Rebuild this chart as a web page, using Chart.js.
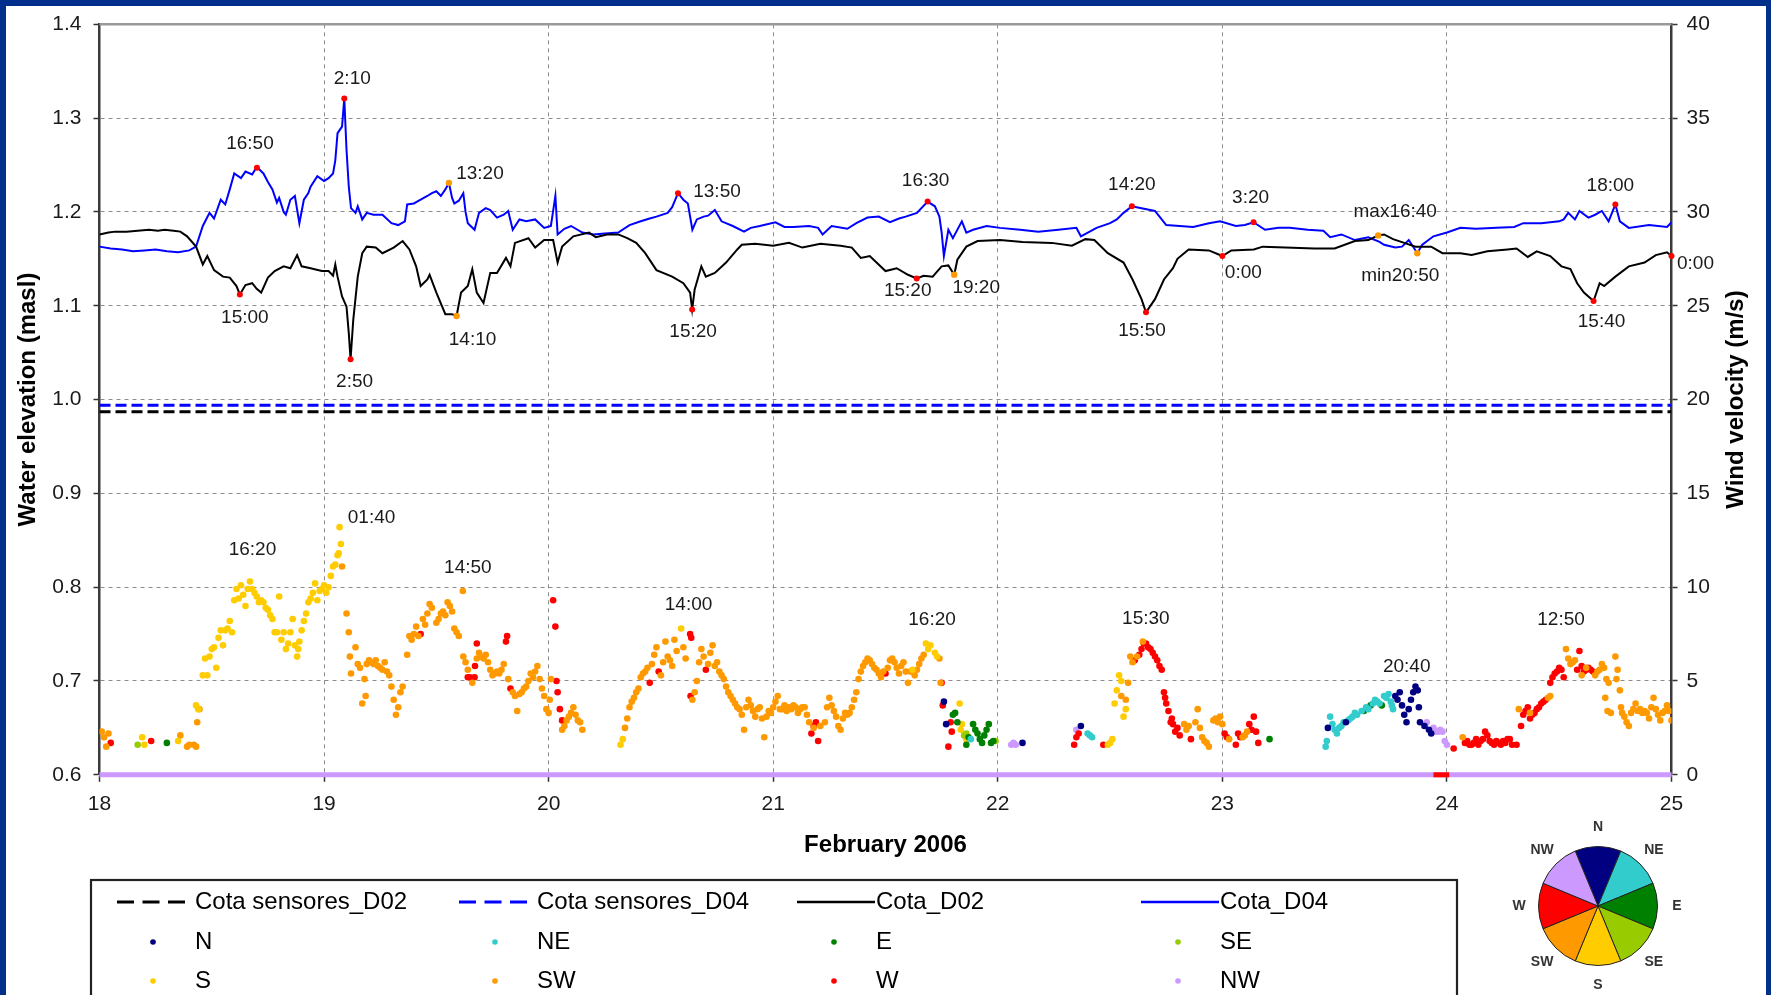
<!DOCTYPE html>
<html>
<head>
<meta charset="utf-8">
<title>Water elevation and wind velocity, February 2006</title>
<script src="https://cdn.jsdelivr.net/npm/chart.js@4.4.1/dist/chart.umd.min.js"></script>
<style>
  html, body { margin: 0; padding: 0; overflow: hidden; }
  body { width: 1771px; height: 995px; background: #00308c; position: relative; }
  #panel { position: absolute; left: 6px; top: 6px; width: 1760px; height: 989px; background: #fff; overflow: hidden; }
  #main { position: absolute; left: 0; top: 0; }
  #rose { position: absolute; left: 1492px; top: 800px; }
</style>
</head>
<body>
<div id="panel">
  <canvas id="main" width="1760" height="989"></canvas>
  <canvas id="rose" width="200" height="200"></canvas>
</div>
<script>
// ---- water level (masl), [day of February, level] ----
var cotaD02 = [
  [18.00,1.176],[18.04,1.178],[18.07,1.179],[18.12,1.179],[18.17,1.180],[18.22,1.181],[18.26,1.180],[18.29,1.181],
  [18.33,1.180],[18.36,1.179],[18.39,1.174],[18.43,1.163],[18.46,1.144],[18.48,1.153],[18.51,1.138],[18.55,1.131],
  [18.58,1.130],[18.61,1.121],[18.625,1.112],[18.65,1.122],[18.68,1.124],[18.70,1.118],[18.72,1.114],[18.75,1.130],
  [18.78,1.137],[18.82,1.142],[18.85,1.140],[18.88,1.154],[18.90,1.142],[18.94,1.140],[18.99,1.137],[19.02,1.137],
  [19.04,1.132],[19.05,1.144],[19.06,1.131],[19.08,1.110],[19.10,1.099],[19.11,1.071],[19.118,1.043],[19.13,1.085],
  [19.15,1.131],[19.17,1.156],[19.19,1.163],[19.23,1.162],[19.26,1.156],[19.31,1.162],[19.35,1.169],[19.38,1.160],
  [19.41,1.142],[19.43,1.121],[19.46,1.128],[19.47,1.133],[19.50,1.114],[19.54,1.091],[19.57,1.091],[19.59,1.089],
  [19.61,1.114],[19.64,1.121],[19.66,1.139],[19.68,1.114],[19.71,1.103],[19.74,1.135],[19.77,1.135],[19.81,1.151],
  [19.83,1.142],[19.85,1.167],[19.91,1.172],[19.94,1.162],[19.98,1.170],[20.02,1.170],[20.04,1.146],[20.06,1.163],
  [20.11,1.174],[20.18,1.178],[20.21,1.173],[20.26,1.176],[20.31,1.176],[20.35,1.172],[20.39,1.167],[20.43,1.156],
  [20.48,1.138],[20.55,1.131],[20.60,1.124],[20.63,1.114],[20.639,1.096],[20.65,1.117],[20.68,1.142],[20.70,1.131],
  [20.74,1.135],[20.79,1.146],[20.84,1.160],[20.86,1.165],[20.92,1.166],[21.00,1.164],[21.07,1.167],[21.13,1.162],
  [21.21,1.166],[21.30,1.164],[21.35,1.162],[21.39,1.151],[21.43,1.153],[21.50,1.137],[21.55,1.140],[21.60,1.133],
  [21.639,1.129],[21.67,1.132],[21.71,1.131],[21.75,1.142],[21.78,1.143],[21.806,1.133],[21.82,1.149],[21.86,1.163],
  [21.91,1.169],[22.01,1.170],[22.11,1.168],[22.24,1.167],[22.33,1.164],[22.39,1.171],[22.43,1.170],[22.49,1.156],
  [22.56,1.146],[22.60,1.128],[22.64,1.107],[22.66,1.093],[22.70,1.107],[22.74,1.128],[22.78,1.140],[22.80,1.150],
  [22.85,1.160],[22.94,1.159],[23.00,1.153],[23.04,1.159],[23.14,1.160],[23.18,1.163],[23.28,1.162],[23.41,1.161],
  [23.50,1.161],[23.59,1.169],[23.65,1.170],[23.694,1.175],[23.72,1.176],[23.76,1.171],[23.81,1.167],[23.86,1.163],
  [23.93,1.163],[23.98,1.156],[24.06,1.156],[24.11,1.154],[24.18,1.158],[24.27,1.160],[24.31,1.161],[24.36,1.152],
  [24.40,1.158],[24.46,1.153],[24.51,1.142],[24.55,1.139],[24.58,1.124],[24.61,1.114],[24.653,1.105],[24.68,1.124],
  [24.70,1.121],[24.75,1.131],[24.81,1.142],[24.88,1.146],[24.93,1.154],[24.98,1.157],[25.00,1.153]
];
var cotaD04 = [
  [18.00,1.163],[18.05,1.161],[18.10,1.160],[18.15,1.158],[18.20,1.159],[18.25,1.160],[18.30,1.158],[18.35,1.157],
  [18.40,1.159],[18.43,1.163],[18.46,1.185],[18.49,1.199],[18.51,1.193],[18.54,1.213],[18.56,1.208],[18.58,1.224],
  [18.60,1.241],[18.63,1.236],[18.65,1.243],[18.68,1.240],[18.70,1.248],[18.73,1.241],[18.75,1.232],[18.77,1.224],
  [18.79,1.210],[18.80,1.215],[18.82,1.200],[18.83,1.197],[18.85,1.213],[18.87,1.217],[18.89,1.188],[18.91,1.213],
  [18.93,1.220],[18.94,1.227],[18.97,1.238],[19.00,1.233],[19.02,1.236],[19.04,1.241],[19.05,1.255],[19.06,1.284],
  [19.08,1.291],[19.09,1.321],[19.10,1.266],[19.11,1.227],[19.12,1.204],[19.14,1.199],[19.15,1.206],[19.17,1.192],
  [19.19,1.199],[19.22,1.197],[19.26,1.197],[19.30,1.188],[19.33,1.186],[19.36,1.190],[19.37,1.208],[19.40,1.209],
  [19.43,1.213],[19.46,1.217],[19.48,1.220],[19.50,1.222],[19.52,1.217],[19.54,1.224],[19.556,1.231],[19.57,1.215],
  [19.58,1.209],[19.60,1.212],[19.62,1.220],[19.63,1.200],[19.64,1.188],[19.67,1.181],[19.69,1.199],[19.72,1.204],
  [19.74,1.202],[19.77,1.194],[19.80,1.197],[19.82,1.201],[19.84,1.181],[19.87,1.192],[19.90,1.190],[19.94,1.192],
  [19.98,1.183],[20.01,1.185],[20.03,1.217],[20.04,1.176],[20.07,1.182],[20.10,1.185],[20.15,1.178],[20.20,1.176],
  [20.25,1.177],[20.31,1.178],[20.36,1.186],[20.41,1.190],[20.45,1.193],[20.48,1.195],[20.53,1.199],[20.55,1.205],
  [20.576,1.220],[20.60,1.213],[20.62,1.209],[20.64,1.181],[20.66,1.192],[20.69,1.195],[20.71,1.196],[20.74,1.202],
  [20.77,1.190],[20.82,1.185],[20.87,1.179],[20.90,1.183],[20.94,1.185],[21.01,1.189],[21.05,1.184],[21.09,1.184],
  [21.16,1.185],[21.20,1.183],[21.22,1.176],[21.26,1.185],[21.33,1.182],[21.37,1.188],[21.42,1.194],[21.47,1.195],
  [21.52,1.189],[21.56,1.193],[21.59,1.195],[21.64,1.199],[21.6875,1.211],[21.72,1.206],[21.74,1.195],[21.75,1.178],
  [21.76,1.153],[21.78,1.181],[21.80,1.172],[21.84,1.190],[21.86,1.178],[21.89,1.181],[21.95,1.185],[22.01,1.183],
  [22.10,1.181],[22.18,1.179],[22.27,1.181],[22.35,1.183],[22.37,1.174],[22.44,1.183],[22.50,1.188],[22.53,1.192],
  [22.56,1.199],[22.597,1.206],[22.64,1.204],[22.70,1.201],[22.75,1.186],[22.81,1.185],[22.87,1.184],[22.94,1.188],
  [22.99,1.190],[23.06,1.185],[23.10,1.186],[23.139,1.189],[23.19,1.181],[23.25,1.183],[23.30,1.183],[23.38,1.181],
  [23.45,1.180],[23.48,1.173],[23.53,1.176],[23.59,1.170],[23.65,1.173],[23.70,1.168],[23.72,1.165],[23.77,1.162],
  [23.80,1.163],[23.83,1.170],[23.868,1.156],[23.89,1.165],[23.94,1.174],[24.00,1.178],[24.06,1.183],[24.13,1.182],
  [24.22,1.183],[24.30,1.184],[24.34,1.188],[24.42,1.188],[24.50,1.190],[24.52,1.192],[24.54,1.199],[24.57,1.192],
  [24.59,1.201],[24.63,1.194],[24.66,1.197],[24.69,1.201],[24.72,1.190],[24.75,1.208],[24.77,1.190],[24.81,1.183],
  [24.90,1.186],[24.98,1.184],[25.00,1.189]
];
var sensorD02 = 0.987;
var sensorD04 = 0.994;

// ---- marked extremes of the water levels ----
var redMarks = [[18.701,1.247],[19.090,1.321],[18.625,1.112],[19.118,1.043],[20.576,1.220],[20.639,1.096],[21.6875,1.211],
  [21.639,1.129],[22.597,1.206],[22.660,1.093],[23.139,1.189],[23.000,1.153],[24.653,1.105],[24.750,1.208],[25.000,1.153]];
var redMarkNames = ['16:50','2:10','15:00','2:50','13:50','15:20','16:30','15:20','14:20','15:50','3:20','0:00','15:40','18:00','0:00'];
var orangeMarks = [[19.556,1.231],[19.590,1.089],[21.806,1.133],[23.694,1.175],[23.868,1.156]];
var orangeMarkNames = ['13:20','14:10','19:20','max16:40','min20:50'];

// ---- wind velocity (m/s) by direction, [day, speed] ----
var windDirs = ['N','NE','E','SE','S','SW','W','NW'];
var windN = [[21.76,3.9],[21.77,2.7],[22.11,1.7],[22.37,2.6],[23.47,2.5],[23.55,2.8],[23.77,4.2],[23.78,4.0],[23.79,4.4],
  [23.80,3.7],[23.81,3.2],[23.82,2.8],[23.83,3.5],[23.84,4.0],[23.85,4.4],[23.86,4.7],[23.87,4.5],[23.875,3.6],
  [23.88,2.8],[23.90,2.6],[23.92,2.4],[23.93,2.2]];
var windNE = [[21.88,1.9],[22.40,2.2],[22.41,2.1],[22.42,2.0],[23.46,1.5],[23.465,1.8],[23.48,3.1],[23.49,2.7],[23.50,2.4],
  [23.51,2.2],[23.52,2.5],[23.53,2.6],[23.54,2.8],[23.56,2.9],[23.57,3.0],[23.58,3.1],[23.59,3.3],[23.60,3.2],[23.62,3.4],
  [23.64,3.6],[23.65,3.5],[23.67,3.8],[23.68,4.0],[23.69,3.9],[23.70,3.8],[23.72,4.2],[23.73,4.1],[23.74,4.3],[23.75,3.9],
  [23.755,3.7],[23.76,3.5]];
var windE = [[18.30,1.7],[21.80,3.2],[21.81,3.3],[21.82,2.8],[21.86,1.6],[21.87,2.0],[21.89,2.7],[21.90,2.4],[21.91,2.2],
  [21.92,1.9],[21.93,1.7],[21.94,2.1],[21.95,2.4],[21.96,2.7],[21.97,1.7],[21.98,1.8],[23.21,1.9],[23.63,3.4],[23.66,3.7],
  [23.71,3.7]];
var windSE = [[18.17,1.6],[21.85,2.1],[21.86,2.2],[21.99,1.8]];
var windS = [[18.19,2.0],[18.20,1.6],[18.35,1.8],[18.43,3.7],[18.44,3.5],[18.46,5.3],[18.47,6.2],[18.48,5.3],[18.49,6.3],
  [18.50,6.7],[18.51,6.8],[18.52,5.7],[18.53,7.3],[18.54,7.7],[18.55,6.9],[18.56,7.7],[18.57,7.8],[18.58,8.2],[18.59,7.6],
  [18.60,9.3],[18.61,9.9],[18.62,9.4],[18.63,10.1],[18.64,9.6],[18.65,9.0],[18.66,9.9],[18.67,10.3],[18.68,9.9],[18.69,9.7],
  [18.70,9.5],[18.71,9.2],[18.72,9.3],[18.73,9.2],[18.74,8.9],[18.75,8.8],[18.76,8.5],[18.77,8.3],[18.78,7.6],[18.79,7.6],
  [18.80,9.5],[18.81,7.2],[18.82,7.6],[18.83,6.7],[18.84,7.0],[18.85,7.6],[18.86,8.3],[18.87,6.9],[18.88,6.3],[18.885,6.7],
  [18.89,7.1],[18.90,7.7],[18.91,8.2],[18.92,8.6],[18.93,9.2],[18.94,9.4],[18.95,9.7],[18.96,10.2],[18.97,9.3],[18.98,9.8],
  [18.99,9.9],[19.00,10.1],[19.01,9.7],[19.02,10.0],[19.03,10.6],[19.04,11.1],[19.05,11.2],[19.06,11.7],[19.065,11.8],
  [19.069,13.2],[19.075,12.3],[20.32,1.6],[20.33,1.9],[20.59,7.8],[21.62,5.6],[21.68,7.0],[21.69,6.7],[21.70,6.9],
  [21.72,6.5],[21.73,6.3],[21.83,3.8],[21.835,2.4],[21.84,2.7],[21.86,1.9],[22.49,1.6],[22.50,1.7],[22.51,1.9],[22.52,3.8],
  [22.53,4.5],[22.54,5.3],[22.55,5.0],[22.56,3.1],[22.57,3.5]];
var windSW = [[18.01,2.3],[18.02,2.0],[18.03,1.5],[18.04,2.2],[18.36,2.1],[18.39,1.5],[18.40,1.6],[18.42,1.6],[18.43,1.5],
  [18.435,2.8],[18.445,3.5],[19.08,11.1],[19.10,8.6],[19.11,7.6],[19.115,6.3],[19.12,5.4],[19.14,6.8],[19.15,5.9],[19.16,5.7],
  [19.17,3.8],[19.18,5.1],[19.185,4.2],[19.19,5.9],[19.20,6.1],[19.21,6.0],[19.22,5.9],[19.23,6.1],[19.24,5.8],[19.25,5.7],
  [19.26,5.6],[19.27,6.0],[19.28,5.5],[19.29,5.3],[19.30,4.7],[19.31,4.0],[19.32,3.2],[19.33,3.6],[19.34,4.4],[19.35,4.7],
  [19.37,6.4],[19.38,7.4],[19.39,7.2],[19.40,7.5],[19.41,7.9],[19.42,7.4],[19.44,8.3],[19.45,8.0],[19.46,8.6],[19.47,9.1],
  [19.48,8.9],[19.50,8.1],[19.51,8.3],[19.52,8.6],[19.53,8.7],[19.54,8.5],[19.55,9.2],[19.56,9.0],[19.57,8.7],[19.58,7.8],
  [19.59,7.6],[19.60,7.4],[19.618,9.8],[19.62,6.3],[19.63,6.0],[19.64,5.6],[19.66,4.9],[19.68,6.2],[19.69,6.5],[19.70,6.3],
  [19.71,6.2],[19.72,6.4],[19.73,6.0],[19.74,5.6],[19.75,5.3],[19.76,5.4],[19.77,5.5],[19.78,5.4],[19.79,5.6],[19.80,5.9],
  [19.82,5.1],[19.84,4.4],[19.85,4.2],[19.86,3.4],[19.87,4.3],[19.88,4.4],[19.89,4.6],[19.90,4.7],[19.91,5.0],[19.92,5.4],
  [19.93,5.2],[19.94,5.5],[19.95,5.8],[19.96,5.1],[19.97,4.6],[19.98,4.2],[19.99,3.5],[20.00,3.3],[20.005,4.0],[20.01,5.1],
  [20.06,2.4],[20.07,2.6],[20.08,2.9],[20.09,3.1],[20.10,3.3],[20.11,3.6],[20.12,3.2],[20.13,2.9],[20.14,2.8],[20.15,2.4],
  [20.34,2.5],[20.35,3.0],[20.36,3.6],[20.37,3.9],[20.38,4.1],[20.39,4.4],[20.40,4.6],[20.41,5.2],[20.42,5.4],[20.43,5.5],
  [20.44,5.7],[20.46,5.9],[20.47,6.4],[20.48,6.8],[20.50,5.3],[20.51,6.0],[20.52,7.1],[20.53,6.3],[20.54,6.1],[20.55,5.8],
  [20.56,7.2],[20.57,6.6],[20.60,6.8],[20.61,6.2],[20.64,4.0],[20.65,4.4],[20.66,5.0],[20.67,6.0],[20.68,6.7],[20.69,6.3],
  [20.71,5.9],[20.72,6.5],[20.73,6.9],[20.74,5.8],[20.75,6.0],[20.76,5.5],[20.77,5.3],[20.78,5.1],[20.79,4.7],[20.80,4.4],
  [20.81,4.2],[20.82,4.0],[20.83,3.8],[20.84,3.6],[20.85,3.5],[20.86,3.2],[20.87,2.4],[20.88,3.6],[20.89,4.0],[20.90,3.7],
  [20.91,3.4],[20.92,3.1],[20.93,3.5],[20.94,3.6],[20.95,3.0],[20.96,2.0],[20.97,3.1],[20.98,3.4],[20.99,3.3],[21.00,3.6],
  [21.01,3.9],[21.02,4.2],[21.03,3.5],[21.04,3.5],[21.05,3.7],[21.06,3.4],[21.07,3.6],[21.08,3.5],[21.09,3.7],[21.10,3.6],
  [21.11,3.3],[21.12,3.5],[21.13,3.6],[21.14,3.6],[21.15,3.2],[21.16,2.8],[21.18,2.5],[21.21,2.6],[21.23,2.8],[21.24,3.6],
  [21.25,4.1],[21.26,3.7],[21.27,3.4],[21.28,3.1],[21.29,2.6],[21.30,2.4],[21.31,3.0],[21.32,3.3],[21.33,3.2],[21.34,3.3],
  [21.35,3.6],[21.36,4.0],[21.37,4.4],[21.38,5.1],[21.39,5.5],[21.40,5.8],[21.41,6.0],[21.42,6.2],[21.43,6.1],[21.44,5.9],
  [21.45,5.7],[21.46,5.6],[21.47,5.4],[21.48,5.2],[21.49,5.5],[21.51,5.7],[21.52,6.1],[21.53,6.2],[21.54,6.0],[21.55,5.7],
  [21.56,5.4],[21.57,5.8],[21.58,6.0],[21.59,5.5],[21.60,4.9],[21.61,5.5],[21.63,5.3],[21.64,5.6],[21.65,5.9],[21.66,6.2],
  [21.67,6.4],[21.74,6.2],[21.745,4.9],[22.55,4.2],[22.57,4.0],[22.58,4.9],[22.59,6.3],[22.60,6.0],[22.62,6.3],[22.646,7.1],
  [22.83,2.7],[22.84,2.4],[22.85,2.6],[22.88,2.8],[22.89,3.5],[22.90,2.5],[22.91,2.0],[22.92,1.8],[22.93,1.7],[22.94,1.5],
  [22.96,2.9],[22.97,3.0],[22.98,2.8],[22.99,3.1],[23.00,2.7],[23.03,1.9],[23.09,2.0],[23.10,2.1],[23.11,2.3],[24.07,2.0],
  [24.32,3.5],[24.37,3.3],[24.45,4.1],[24.46,4.2],[24.53,6.7],[24.54,6.2],[24.55,5.9],[24.56,6.0],[24.57,6.1],[24.60,5.3],
  [24.62,5.7],[24.66,5.3],[24.67,5.5],[24.68,5.6],[24.69,5.9],[24.70,5.7],[24.705,4.1],[24.71,5.1],[24.715,3.4],[24.72,4.9],
  [24.73,3.3],[24.75,6.3],[24.755,5.1],[24.76,5.6],[24.77,4.5],[24.775,3.6],[24.78,3.3],[24.79,3.1],[24.80,2.8],[24.81,2.6],
  [24.82,3.3],[24.83,3.5],[24.84,3.8],[24.85,3.4],[24.86,3.5],[24.87,3.3],[24.88,3.4],[24.89,3.3],[24.90,3.0],[24.91,3.6],
  [24.92,4.1],[24.93,3.5],[24.94,3.2],[24.95,2.9],[24.96,3.3],[24.97,3.4],[24.98,3.7],[24.99,3.4],[25.00,2.9]];
var windW = [[18.05,1.7],[18.23,1.8],[19.43,7.5],[19.64,5.2],[19.65,5.2],[19.67,5.2],[19.672,5.8],[19.68,7.0],[19.81,7.1],
  [19.815,7.4],[19.83,4.6],[20.02,9.3],[20.03,7.9],[20.035,5.0],[20.04,4.4],[20.05,3.5],[20.06,2.9],[20.45,4.9],[20.49,5.5],
  [20.63,7.5],[20.635,7.3],[20.632,4.2],[20.70,5.6],[21.17,2.2],[21.18,2.6],[21.19,2.8],[21.20,1.8],[21.50,5.4],[21.75,4.9],
  [21.755,3.7],[21.79,2.8],[21.795,2.3],[21.78,1.5],[22.34,1.6],[22.35,2.0],[22.36,2.2],[22.47,1.6],[22.61,6.1],[22.63,6.4],
  [22.64,6.7],[22.65,7.0],[22.66,7.0],[22.67,6.8],[22.68,6.7],[22.69,6.5],[22.70,6.3],[22.71,6.1],[22.72,5.8],[22.73,5.6],
  [22.74,4.4],[22.745,4.1],[22.75,3.8],[22.76,3.4],[22.77,2.8],[22.775,3.0],[22.78,2.7],[22.79,2.3],[22.80,2.5],[22.81,2.1],
  [22.86,1.9],[23.01,2.2],[23.02,2.0],[23.06,1.6],[23.07,2.2],[23.08,2.0],[23.12,2.7],[23.13,2.4],[23.14,3.1],[23.15,2.3],
  [23.16,1.7],[24.03,1.4],[24.08,1.7],[24.09,1.8],[24.10,1.6],[24.11,1.6],[24.12,1.7],[24.13,1.9],[24.14,1.6],[24.15,1.8],
  [24.16,1.9],[24.17,2.3],[24.18,2.1],[24.19,1.8],[24.20,1.7],[24.21,1.6],[24.22,1.8],[24.23,1.7],[24.24,1.6],[24.25,1.8],
  [24.26,1.7],[24.27,1.9],[24.28,1.9],[24.29,1.6],[24.31,1.6],[24.33,2.6],[24.34,3.2],[24.35,3.4],[24.36,3.6],[24.37,3.0],
  [24.38,3.2],[24.39,3.3],[24.40,3.5],[24.41,3.6],[24.42,3.8],[24.43,3.9],[24.44,4.0],[24.46,4.9],[24.47,5.2],[24.48,5.4],
  [24.49,5.5],[24.50,5.7],[24.51,5.6],[24.52,5.2],[24.58,5.6],[24.59,6.6],[24.60,5.8],[24.61,5.5],[24.62,5.6],[24.63,5.7],
  [24.64,5.6],[24.65,5.5]];
var windNW = [[22.06,1.6],[22.07,1.7],[22.08,1.6],[22.35,2.4],[23.91,2.8],[23.94,2.5],[23.95,2.3],[23.96,2.3],[23.97,2.4],
  [23.98,2.3],[23.99,1.8],[24.00,1.6]];
// calm spells (0 m/s)
var calmNW = [[18.0,0],[25.0,0]];
var calmW = [[23.94,0],[24.01,0]];

// ---- wind peaks ----
var windPeaks = [[18.681,10.3],[19.069,13.2],[19.618,9.8],[20.583,7.8],[21.694,7.0],[22.646,7.1],[23.861,4.7],[24.535,6.7]];
var windPeakNames = ['16:20','01:40','14:50','14:00','16:20','15:30','20:40','12:50'];

// wind rose key: eight equal sectors
var roseShare = [1,1,1,1,1,1,1,1];

// ---------------- styling ----------------
var FONT = '"Liberation Sans", Arial, sans-serif';
Chart.defaults.font.family = FONT;
var dirColors = {N:'#000080', NE:'#33cccc', E:'#008000', SE:'#99cc00', S:'#ffcc00', SW:'#ff9900', W:'#ff0000', NW:'#cc99ff'};
var windByDir = {N:windN, NE:windNE, E:windE, SE:windSE, S:windS, SW:windSW, W:windW, NW:windNW};

// label offsets in px from the marked point
var redLabelOffsets = [[-7,-24],[8,-20],[5,23],[4,23],[39,-1],[1,22],[-2,-21],[-9,12],[0,-22],[-4,18],[-3,-24],[21,17],[8,21],[-5,-19],[24,8]];
var orangeLabelOffsets = [[31,-9],[16,24],[22,13],[17,-24],[-17,23]];
var windLabelOffsets = [[0,-32],[32,-9],[5,-23],[9,-24],[3,-24],[3,-23],[-9,-20],[-6,-29]];

function pairs(arr) { return arr.map(function (p) { return {x: p[0], y: p[1]}; }); }

var datasets = [
  {label: 'Cota sensores_D02', legendKind: 'dash', data: [{x: 18, y: sensorD02}, {x: 25, y: sensorD02}],
   borderColor: '#000', borderWidth: 3, borderDash: [11, 5], pointRadius: 0, yAxisID: 'y'},
  {label: 'Cota sensores_D04', legendKind: 'dash', data: [{x: 18, y: sensorD04}, {x: 25, y: sensorD04}],
   borderColor: '#0000ff', borderWidth: 3, borderDash: [11, 5], pointRadius: 0, yAxisID: 'y'},
  {label: 'Cota_D02', legendKind: 'line', data: pairs(cotaD02), borderColor: '#000', borderWidth: 2,
   pointRadius: 0, yAxisID: 'y'},
  {label: 'Cota_D04', legendKind: 'line', data: pairs(cotaD04), borderColor: '#0000ff', borderWidth: 2,
   pointRadius: 0, yAxisID: 'y'}
];
windDirs.forEach(function (d) {
  datasets.push({label: d, legendKind: 'dot', data: pairs(windByDir[d]), yAxisID: 'y2', showLine: false,
    pointRadius: 3.3, pointBorderWidth: 0, pointBackgroundColor: dirColors[d], borderColor: dirColors[d],
    backgroundColor: dirColors[d]});
});
datasets.push(
  {label: 'peaks', data: pairs(redMarks), yAxisID: 'y', showLine: false, pointRadius: 3, pointBorderWidth: 0,
   pointBackgroundColor: '#ff0000', order: -1, clip: false},
  {label: 'turns', data: pairs(orangeMarks), yAxisID: 'y', showLine: false, pointRadius: 3.2, pointBorderWidth: 0,
   pointBackgroundColor: '#ff9900', order: -1, clip: false},
  {label: 'calm NW', data: pairs(calmNW), yAxisID: 'y2', borderColor: '#cc99ff', borderWidth: 5, pointRadius: 0,
   order: 5, clip: false},
  {label: 'calm W', data: pairs(calmW), yAxisID: 'y2', borderColor: '#ff0000', borderWidth: 5, pointRadius: 0,
   order: 4, clip: false}
);

var timeLabels = {
  id: 'timeLabels',
  afterDatasetsDraw: function (chart) {
    var ctx = chart.ctx, x = chart.scales.x, y = chart.scales.y, y2 = chart.scales.y2;
    ctx.save();
    ctx.font = '19px ' + FONT;
    ctx.fillStyle = '#1a1a1a';
    ctx.textAlign = 'center';
    ctx.textBaseline = 'middle';
    function put(points, names, offs, scale) {
      points.forEach(function (p, i) {
        ctx.fillText(names[i], x.getPixelForValue(p[0]) + offs[i][0], scale.getPixelForValue(p[1]) + offs[i][1]);
      });
    }
    put(redMarks, redMarkNames, redLabelOffsets, y);
    put(orangeMarks, orangeMarkNames, orangeLabelOffsets, y);
    put(windPeaks, windPeakNames, windLabelOffsets, y2);
    ctx.restore();
  }
};

var frame = {
  id: 'frame',
  beforeDatasetsDraw: function (chart) {
    var ctx = chart.ctx, a = chart.chartArea;
    ctx.save();
    ctx.strokeStyle = '#999';
    ctx.lineWidth = 2.5;
    ctx.beginPath();
    ctx.moveTo(a.left, a.top);
    ctx.lineTo(a.right, a.top);
    ctx.stroke();
    ctx.restore();
  },
  afterDraw: function (chart) {
    var ctx = chart.ctx, a = chart.chartArea;
    ctx.save();
    ctx.translate(chart.scales.y2.right - 30, (a.top + a.bottom) / 2);
    ctx.rotate(-Math.PI / 2);
    ctx.font = 'bold 24px ' + FONT;
    ctx.fillStyle = '#000';
    ctx.textAlign = 'center';
    ctx.textBaseline = 'middle';
    ctx.fillText('Wind velocity (m/s)', 0, 0);
    ctx.restore();
  }
};

var boxLegend = {
  id: 'boxLegend',
  afterDraw: function (chart) {
    var ctx = chart.ctx;
    var cols = [189, 531, 870, 1214], rows = [896, 936, 975];
    ctx.save();
    ctx.strokeStyle = '#222';
    ctx.lineWidth = 2.2;
    ctx.strokeRect(85, 874, 1366, 200);
    ctx.font = '24px ' + FONT;
    ctx.textAlign = 'left';
    ctx.textBaseline = 'middle';
    chart.data.datasets.filter(function (d) { return d.legendKind; }).forEach(function (ds, i) {
      var tx = cols[i % 4], ty = rows[Math.floor(i / 4)];
      if (ds.legendKind === 'dot') {
        ctx.fillStyle = ds.pointBackgroundColor;
        ctx.beginPath();
        ctx.arc(tx - 42, ty, 2.8, 0, Math.PI * 2);
        ctx.fill();
      } else {
        ctx.strokeStyle = ds.borderColor;
        ctx.lineWidth = ds.legendKind === 'dash' ? 3 : 2.5;
        ctx.setLineDash(ds.legendKind === 'dash' ? [17, 8.5] : []);
        ctx.beginPath();
        if (ds.legendKind === 'dash') { ctx.moveTo(tx - 78, ty); ctx.lineTo(tx - 10, ty); }
        else { ctx.moveTo(tx - 79, ty); ctx.lineTo(tx - 1, ty); }
        ctx.stroke();
        ctx.setLineDash([]);
      }
      ctx.fillStyle = '#000';
      ctx.fillText(ds.label, tx, ty);
    });
    ctx.restore();
  }
};

var tickFont = {size: 21, family: FONT};
var gridGray = '#8c8c8c';
// keep the plot area where it is: drop the label overhang padding Chart.js adds
function noOverhang(s) { s.paddingTop = 0; s.paddingBottom = 0; s.paddingLeft = 0; s.paddingRight = 0; }

new Chart(document.getElementById('main'), {
  type: 'line',
  data: {datasets: datasets},
  options: {
    responsive: false,
    animation: false,
    events: [],
    layout: {padding: {left: 0, right: 0, top: 18.3, bottom: 134.8}},
    plugins: {legend: {display: false}, tooltip: {enabled: false}},
    elements: {line: {tension: 0}},
    scales: {
      x: {
        type: 'linear', min: 18, max: 25,
        ticks: {stepSize: 1, font: tickFont, color: '#1a1a1a', padding: 10, maxRotation: 0},
        grid: {
          color: function (c) { return (c.tick && (c.tick.value === 18 || c.tick.value === 25)) ? 'rgba(0,0,0,0)' : gridGray; },
          lineWidth: 1, tickLength: 7, tickColor: '#333', tickWidth: 1.5
        },
        border: {display: true, color: '#333', width: 1.5, dash: [4, 4]},
        title: {display: true, text: 'February 2006', color: '#000', font: {size: 24, weight: 'bold', family: FONT}, padding: 0},
        afterFit: function (s) { s.height = 85.4; noOverhang(s); }
      },
      y: {
        position: 'left', min: 0.6, max: 1.4,
        ticks: {stepSize: 0.1, font: tickFont, color: '#1a1a1a', padding: 12,
          callback: function (v) { return Number(v).toFixed(1); }},
        grid: {
          color: function (c) { return (c.index === 0 || c.index === 8) ? 'rgba(0,0,0,0)' : gridGray; },
          lineWidth: 1, tickLength: 6, tickColor: '#333', tickWidth: 1.5
        },
        border: {display: true, color: '#3a3a3a', width: 2.5, dash: [4, 4]},
        title: {display: true, text: 'Water elevation (masl)', color: '#000', font: {size: 24, weight: 'bold', family: FONT},
          padding: {top: 8, bottom: 0}},
        afterFit: function (s) { s.width = 93.5; noOverhang(s); }
      },
      y2: {
        position: 'right', min: 0, max: 40,
        ticks: {stepSize: 5, font: tickFont, color: '#1a1a1a', padding: 9},
        grid: {drawOnChartArea: false, tickLength: 6, tickColor: '#333', tickWidth: 1.5},
        border: {display: true, color: '#3a3a3a', width: 2.5},
        afterFit: function (s) { s.width = 94.5; noOverhang(s); }
      }
    }
  },
  plugins: [frame, timeLabels, boxLegend]
});

// ---- wind rose key ----
var roseLabels = {
  id: 'roseLabels',
  afterDraw: function (chart) {
    var ctx = chart.ctx, a = chart.chartArea;
    var cx = (a.left + a.right) / 2, cy = (a.top + a.bottom) / 2;
    ctx.save();
    ctx.font = 'bold 14px ' + FONT;
    ctx.fillStyle = '#333';
    ctx.textAlign = 'center';
    ctx.textBaseline = 'middle';
    chart.data.labels.forEach(function (name, i) {
      var ang = (-90 + 45 * i) * Math.PI / 180;
      ctx.fillText(name, cx + 79 * Math.cos(ang), cy + 79 * Math.sin(ang));
    });
    ctx.restore();
  }
};

new Chart(document.getElementById('rose'), {
  type: 'pie',
  data: {
    labels: windDirs,
    datasets: [{data: roseShare, backgroundColor: windDirs.map(function (d) { return dirColors[d]; }),
      borderColor: '#222', borderWidth: 1}]
  },
  options: {
    responsive: false, animation: false, events: [],
    rotation: -22.5,
    layout: {padding: 40},
    plugins: {legend: {display: false}, tooltip: {enabled: false}}
  },
  plugins: [roseLabels]
});
</script>
</body>
</html>
